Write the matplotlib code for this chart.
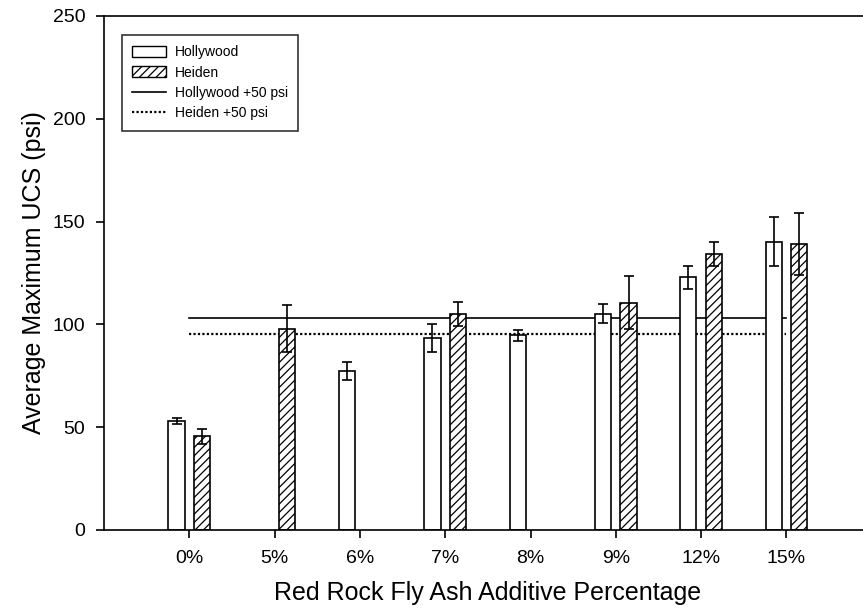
import numpy as np
import matplotlib
matplotlib.use('Agg')
import matplotlib.pyplot as plt
from matplotlib.patches import Patch
from matplotlib.lines import Line2D

plt.rcParams['font.family'] = ['Liberation Sans', 'DejaVu Sans']
plt.rcParams['hatch.linewidth'] = 0.9

# valores (nan = sem barra)
categorias = ['0%', '5%', '6%', '7%', '8%', '9%', '12%', '15%']
hollywood = [53.0, np.nan, 77.5, 93.4, 94.7, 105.2, 122.9, 140.2]
hollywood_err = [1.5, np.nan, 4.3, 6.6, 2.7, 4.5, 5.5, 12.0]
heiden = [45.5, 98.0, np.nan, 105.2, np.nan, 110.6, 134.4, 139.1]
heiden_err = [3.7, 11.5, np.nan, 5.9, np.nan, 13.0, 5.9, 15.0]

x = np.arange(len(categorias))
largura = 0.19
desloc = 0.15

fig = plt.figure(figsize=(8.63, 6.13), dpi=100)
ax = fig.add_axes([104 / 863, 1 - 530 / 613, 767.7 / 863, 514 / 613])

hw = np.array(hollywood)
hw_e = np.array(hollywood_err)
hd = np.array(heiden)
hd_e = np.array(heiden_err)

m1 = ~np.isnan(hw)
ax.bar(x[m1] - desloc, hw[m1], largura, color='white', edgecolor='black',
       linewidth=1.2, zorder=2)
ax.errorbar(x[m1] - desloc, hw[m1], yerr=hw_e[m1], fmt='none', ecolor='black',
            elinewidth=1.2, capsize=3.8, capthick=1.2, zorder=3)

m2 = ~np.isnan(hd)
ax.bar(x[m2] + desloc, hd[m2], largura, color='white', edgecolor='black',
       hatch='////', linewidth=1.2, zorder=2)
ax.errorbar(x[m2] + desloc, hd[m2], yerr=hd_e[m2], fmt='none', ecolor='black',
            elinewidth=1.2, capsize=3.8, capthick=1.2, zorder=3)

# linhas de referencia (+50 psi sobre o 0%)
ax.plot([x[0], x[-1]], [hollywood[0] + 50] * 2, color='black', lw=1.2, zorder=1)
ax.plot([x[0], x[-1]], [heiden[0] + 50] * 2, color='black', lw=1.6,
        linestyle=(0, (1, 1)), zorder=1)

ax.set_xlim(-1, 8)
ax.set_ylim(0, 250)
ax.set_yticks([0, 50, 100, 150, 200, 250])
ax.set_xticks(x)
ax.set_xticklabels(categorias)
ax.tick_params(direction='out', length=5.5, width=1.2, labelsize=14)
ax.tick_params(axis='x', pad=9)
ax.tick_params(axis='y', pad=8)
for s in ax.spines.values():
    s.set_linewidth(1.2)

ax.set_xlabel('Red Rock Fly Ash Additive Percentage', fontsize=18, labelpad=10)
ax.set_ylabel('Average Maximum UCS (psi)', fontsize=18, labelpad=5)

handles = [
    Patch(facecolor='white', edgecolor='black', linewidth=1.0),
    Patch(facecolor='white', edgecolor='black', hatch='////', linewidth=1.0),
    Line2D([], [], color='black', lw=1.2),
    Line2D([], [], color='black', lw=1.6, linestyle=(0, (1, 1))),
]
nomes = ['Hollywood', 'Heiden', 'Hollywood +50 psi', 'Heiden +50 psi']
leg = ax.legend(handles, nomes, loc='upper left', bbox_to_anchor=(0.0234, 0.963),
                borderaxespad=0, fontsize=10, frameon=True, fancybox=False,
                edgecolor='black', borderpad=0.75, handlelength=2.4,
                handleheight=0.85, handletextpad=0.65, labelspacing=0.45)
leg.get_frame().set_linewidth(1.2)

plt.savefig('out.png', dpi=100)
